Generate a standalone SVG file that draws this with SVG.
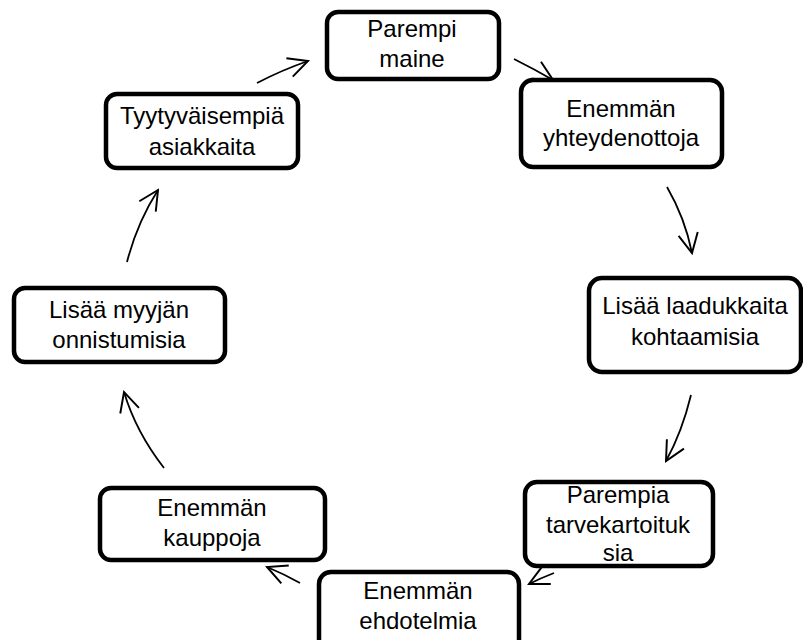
<svg xmlns="http://www.w3.org/2000/svg" width="803" height="640" viewBox="0 0 803 640">
<style>
.box{fill:#fff;stroke:#000;stroke-width:4.5}
.lbl{font-family:"Liberation Sans",Arial,sans-serif;font-size:24px;fill:#000;text-anchor:middle}
.arr{fill:none;stroke:#000;stroke-width:1.8;marker-end:url(#ah)}
</style>
<defs>
<marker id="ah" viewBox="0 0 12 12" refX="11" refY="6" markerWidth="13" markerHeight="13" orient="auto" markerUnits="strokeWidth">
<path d="M1,1 L11,6 L1,11" fill="none" stroke="#000" stroke-width="1"/>
</marker>
</defs>
<rect width="803" height="640" fill="#fff"/>
<g id="connectors">
<path class="arr" d="M257,83 Q282,70 308,61"/>
<path class="arr" d="M514,59 Q534,69 553,80"/>
<path class="arr" d="M667,187 Q685,218 692,253"/>
<path class="arr" d="M691,395 Q682,432 666,461"/>
<path class="arr" d="M554,573 Q541,578 529,584"/>
<path class="arr" d="M300,583 Q284,574 267,567"/>
<path class="arr" d="M164,468 Q136,432 124,392"/>
<path class="arr" d="M127,262 Q137,223 158,190"/>
</g>
<g id="n1"><rect class="box" x="327" y="12" width="172" height="67" rx="11"/>
<text class="lbl" x="412" y="37">Parempi</text><text class="lbl" x="412" y="67">maine</text></g>
<g id="n2"><rect class="box" x="521" y="80" width="201" height="87" rx="12"/>
<text class="lbl" x="621" y="117">Enemmän</text><text class="lbl" x="621" y="146">yhteydenottoja</text></g>
<g id="n3"><rect class="box" x="589" y="278" width="212" height="94" rx="13"/>
<text class="lbl" x="695" y="314">Lisää laadukkaita</text><text class="lbl" x="695" y="345">kohtaamisia</text></g>
<g id="n4"><rect class="box" x="525" y="482" width="188" height="84" rx="12"/>
<text class="lbl" x="618" y="503">Parempia</text><text class="lbl" x="618" y="533">tarvekartoituk</text><text class="lbl" x="618" y="561">sia</text></g>
<g id="n5"><rect class="box" x="319" y="572" width="200" height="80" rx="12"/>
<text class="lbl" x="418" y="599">Enemmän</text><text class="lbl" x="418" y="629">ehdotelmia</text></g>
<g id="n6"><rect class="box" x="100" y="488" width="225" height="72" rx="11"/>
<text class="lbl" x="212" y="516">Enemmän</text><text class="lbl" x="212" y="546">kauppoja</text></g>
<g id="n7"><rect class="box" x="14" y="288" width="211" height="74" rx="11"/>
<text class="lbl" x="119" y="318">Lisää myyjän</text><text class="lbl" x="119" y="348">onnistumisia</text></g>
<g id="n8"><rect class="box" x="106" y="94" width="192" height="74" rx="11"/>
<text class="lbl" x="202" y="124">Tyytyväisempiä</text><text class="lbl" x="202" y="155">asiakkaita</text></g>
</svg>
